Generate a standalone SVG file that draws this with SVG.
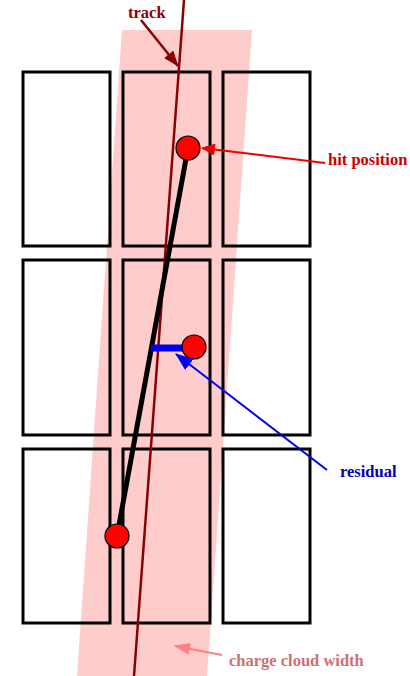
<svg xmlns="http://www.w3.org/2000/svg" width="410" height="676" viewBox="0 0 410 676">
<style>
.px{fill:none;stroke:#000;stroke-width:3}
.lbl{font-family:"Liberation Serif","Times New Roman",serif;font-weight:bold;font-size:16.5px}
.hit{fill:#ff0000;stroke:#000;stroke-width:1.2}
</style>
<defs>
<marker id="ah-dr" markerWidth="16" markerHeight="12" refX="15" refY="6" orient="auto" markerUnits="userSpaceOnUse"><path d="M0,0 L16,6 L0,12 z" fill="#8b0000"/></marker>
<marker id="ah-r" markerWidth="14" markerHeight="12" refX="13" refY="6" orient="auto" markerUnits="userSpaceOnUse"><path d="M0,0 L14,6 L0,12 z" fill="#ee0000"/></marker>
<marker id="ah-b" markerWidth="18" markerHeight="14" refX="17" refY="7" orient="auto" markerUnits="userSpaceOnUse"><path d="M0,0 L18,7 L0,14 z" fill="#0000ee"/></marker>
<marker id="ah-p" markerWidth="16" markerHeight="12" refX="15" refY="6" orient="auto" markerUnits="userSpaceOnUse"><path d="M0,0 L16,6 L0,12 z" fill="#ff8080"/></marker>
</defs>
<rect width="410" height="676" fill="#fff"/>
<polygon id="cloud" points="122,30 252,30 207,676 77,676" fill="#ffcccc"/>
<g id="pixels">
<rect id="p11" class="px" x="23" y="72" width="87" height="174"/>
<rect id="p12" class="px" x="123" y="72" width="87" height="174"/>
<rect id="p13" class="px" x="223" y="72" width="87" height="174"/>
<rect id="p21" class="px" x="23" y="260" width="87" height="175"/>
<rect id="p22" class="px" x="123" y="260" width="87" height="175"/>
<rect id="p23" class="px" x="223" y="260" width="87" height="175"/>
<rect id="p31" class="px" x="23" y="449" width="87" height="174"/>
<rect id="p32" class="px" x="123" y="449" width="87" height="174"/>
<rect id="p33" class="px" x="223" y="449" width="87" height="174"/>
</g>
<line id="track" x1="184" y1="0" x2="134" y2="676" stroke="#8b0000" stroke-width="2.5"/>
<line id="fit" x1="188" y1="148" x2="117" y2="536" stroke="#000" stroke-width="5"/>
<line id="residual-bar" x1="151" y1="348" x2="184" y2="348" stroke="#0000ee" stroke-width="7"/>
<g id="hits">
<circle class="hit" cx="188" cy="148" r="12"/>
<circle class="hit" cx="194" cy="347" r="12"/>
<circle class="hit" cx="117" cy="536" r="12"/>
</g>
<g id="connectors">
<line x1="141" y1="20" x2="178" y2="66" stroke="#8b0000" stroke-width="2.5" marker-end="url(#ah-dr)"/>
<line x1="325" y1="163" x2="202" y2="148" stroke="#ee0000" stroke-width="2" marker-end="url(#ah-r)"/>
<line x1="327" y1="470" x2="176" y2="354" stroke="#0000ee" stroke-width="2" marker-end="url(#ah-b)"/>
<line x1="222" y1="655" x2="175" y2="646" stroke="#ff8080" stroke-width="2" marker-end="url(#ah-p)"/>
</g>
<g id="labels">
<text class="lbl" x="128" y="18" fill="#8b0000">track</text>
<text class="lbl" x="328" y="165" fill="#cc0000">hit position</text>
<text class="lbl" x="340" y="477" fill="#0000bb">residual</text>
<text class="lbl" x="229" y="666" fill="#d07070">charge cloud width</text>
</g>
</svg>
